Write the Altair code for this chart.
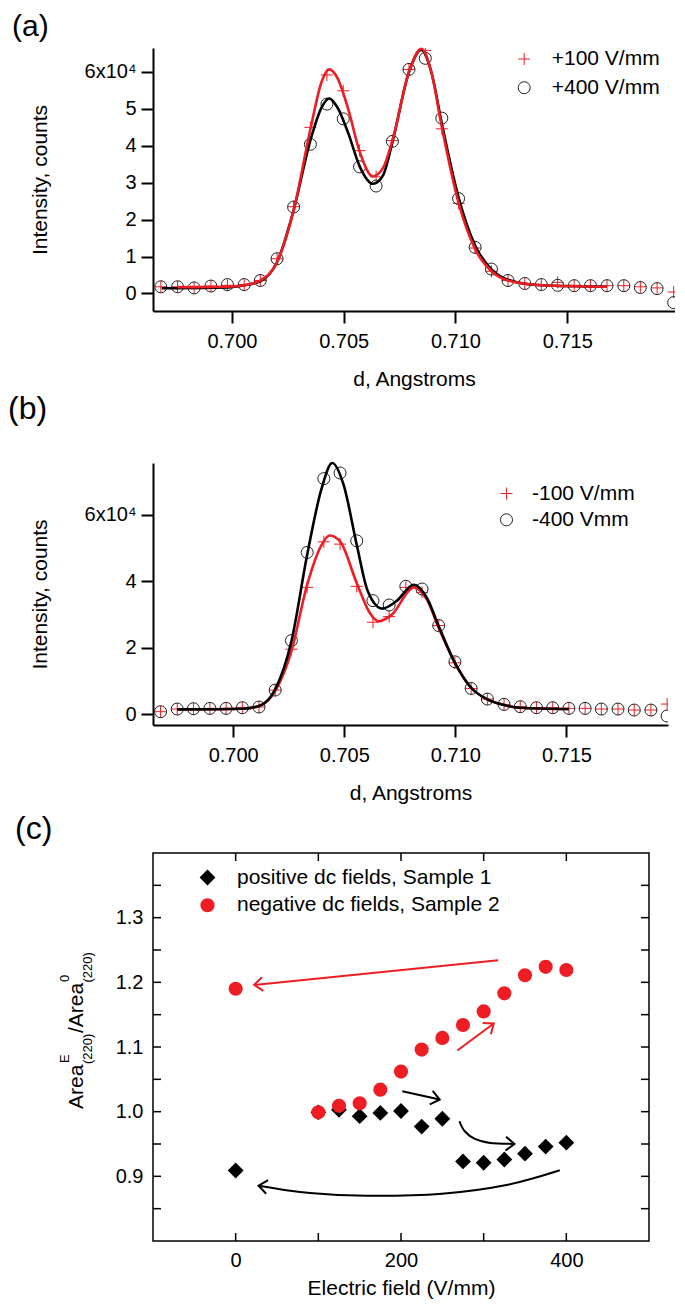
import math
import altair as alt
import pandas as pd

FONT = "Liberation Sans"
RED = "#ee1d23"
CROSS = "M-1,0L1,0M0,-1L0,1"
CHEVRON = "M-1,-0.8L0,0L-1,0.8"

# ---------------- panel (a) ----------------
d_a = [0.69682, 0.69757, 0.69831, 0.69906, 0.69980, 0.70055, 0.70127, 0.70202,
       0.70276, 0.70351, 0.70425, 0.70498, 0.70571, 0.70645, 0.70718, 0.70792,
       0.70865, 0.70939, 0.71014, 0.71088, 0.71161, 0.71235, 0.71310, 0.71384,
       0.71457, 0.71531, 0.71604, 0.71678, 0.71753, 0.71827, 0.71902, 0.71976]
a_p100 = [1800, 1800, 1500, 2000, 2200, 2400, 3500, 9400, 23500, 45000, 59200, 54900,
          38700, 31600, 41400, 60700, 65800, 44600, 24400, 12300, 6000, 3500, 2700, 2400,
          3000, 2200, 2100, 2100, 2100, 1800, 1500, 400]
a_p400 = [1800, 1800, 1500, 2000, 2400, 2400, 3500, 9400, 23400, 40400, 51300, 47300,
          34300, 29100, 41200, 60700, 63700, 47500, 25700, 12500, 6600, 3500, 2700, 2400,
          2200, 2100, 2100, 2100, 2100, 1600, 1300, -2500]
fit_a_red_d = [0.69757, 0.69980, 0.70055, 0.70127, 0.70202, 0.70276, 0.70351, 0.70402,
               0.70435, 0.70471, 0.70520, 0.70571, 0.70631, 0.70676, 0.70718, 0.70792,
               0.70847, 0.70892, 0.70939, 0.71014, 0.71088, 0.71161, 0.71235, 0.71384, 0.71676]
fit_a_red = [1700, 1800, 2200, 3500, 8500, 22500, 44500, 57500, 60700, 58500, 50000, 38500,
             31700, 34000, 41500, 60000, 66300, 60000, 45000, 24500, 12000, 6000, 3500, 2200, 1800]
fit_a_blk_d = [0.69686, 0.69757, 0.69980, 0.70055, 0.70127, 0.70202, 0.70276, 0.70351,
               0.70402, 0.70435, 0.70471, 0.70520, 0.70571, 0.70631, 0.70676, 0.70718,
               0.70792, 0.70847, 0.70892, 0.70939, 0.71014, 0.71088, 0.71161, 0.71235,
               0.71384, 0.71676]
fit_a_blk = [1400, 1400, 1600, 2200, 3300, 8500, 22500, 41500, 50500, 52800, 50500, 43500,
             34500, 29700, 32000, 41000, 60000, 66000, 60000, 46000, 26000, 13000, 6500,
             3700, 2200, 1800]
names_a = ["+100 V/mm", "+400 V/mm"]

# ---------------- panel (b) ----------------
d_b = [0.69673, 0.69748, 0.69821, 0.69895, 0.69968, 0.70041, 0.70116, 0.70189,
       0.70262, 0.70333, 0.70408, 0.70481, 0.70556, 0.70629, 0.70702, 0.70777,
       0.70850, 0.70925, 0.70998, 0.71071, 0.71144, 0.71219, 0.71292, 0.71365,
       0.71438, 0.71511, 0.71584, 0.71657, 0.71732, 0.71805, 0.71880, 0.71953]
b_m100 = [800, 1600, 1700, 1800, 1800, 2000, 2200, 7300, 19600, 38200, 51900, 51200,
          38500, 27700, 29400, 38200, 36700, 26700, 15500, 7800, 4600, 3000, 2300, 2000,
          2000, 1800, 1800, 1600, 1600, 1300, 1300, 3100]
b_m400 = [800, 1600, 1700, 1800, 1800, 2000, 2200, 7300, 22200, 48700, 70900, 72600,
          52200, 34200, 32900, 38500, 37700, 26700, 15800, 7800, 4600, 3000, 2300, 2000,
          2000, 1800, 1800, 1600, 1600, 1300, 1300, -500]
fit_b_red_d = [0.69748, 0.70043, 0.70116, 0.70189, 0.70262, 0.70333, 0.70398, 0.70434,
               0.70481, 0.70556, 0.70615, 0.70655, 0.70714, 0.70813, 0.70872, 0.70925,
               0.70998, 0.71071, 0.71144, 0.71219, 0.71292, 0.71511]
fit_b_red = [1500, 1700, 2500, 7000, 19000, 39000, 51000, 53800, 52000, 39500, 30500, 28000,
             30000, 38200, 34500, 26000, 15500, 8000, 4500, 2800, 2000, 1600]
fit_b_blk_d = [0.69748, 0.70043, 0.70116, 0.70189, 0.70262, 0.70333, 0.70398, 0.70446,
               0.70497, 0.70556, 0.70606, 0.70671, 0.70734, 0.70813, 0.70872, 0.70925,
               0.70998, 0.71071, 0.71144, 0.71219, 0.71292, 0.71511]
fit_b_blk = [1500, 1700, 2500, 7500, 22000, 48000, 68000, 75600, 69000, 51000, 37000, 31800,
             34000, 39000, 35000, 26500, 15500, 8000, 4500, 2800, 2000, 1600]
names_b = ["-100 V/mm", "-400 Vmm"]

# ---------------- panel (c) ----------------
field_pos = [0, 100, 125, 150, 175, 200, 225, 250, 275, 300, 325, 350, 375, 400]
ratio_pos = [0.909, 0.999, 1.003, 0.993, 0.998, 1.001, 0.977, 0.989, 0.923, 0.921,
             0.926, 0.935, 0.946, 0.952]
field_neg = [0, 100, 125, 150, 175, 200, 225, 250, 275, 300, 325, 350, 375, 400]
ratio_neg = [1.190, 0.999, 1.009, 1.013, 1.034, 1.062, 1.096, 1.114, 1.134, 1.155,
             1.183, 1.211, 1.224, 1.219]
names_c = ["positive dc fields, Sample 1", "negative dc fields, Sample 2"]
xticks_c = [0, 100, 200, 300, 400]
yticks_c = [0.85, 0.90, 0.95, 1.00, 1.05, 1.10, 1.15, 1.20, 1.25, 1.30, 1.35]

# annotation arrows (data coordinates)
arrow_red_long_x = [317.6, 22.3]
arrow_red_long_y = [1.234, 1.196]
arrow_red_short_x = [268.1, 312.2]
arrow_red_short_y = [1.0946, 1.1364]
arrow_blk_short_x = [201.6, 246.8]
arrow_blk_short_y = [1.0316, 1.0187]
arrow_blk_bend_x = [270.7, 277.1, 289.4, 308.0, 337.2]
arrow_blk_bend_y = [0.9852, 0.9697, 0.9578, 0.9516, 0.9501]
arrow_blk_long_x = [392.0, 329.3, 249.5, 159.0, 89.9, 27.7]
arrow_blk_long_y = [0.9093, 0.8871, 0.8732, 0.8701, 0.8742, 0.8855]

# ---------------- layout sizes ----------------
WA, HA = 522, 263
WB, HB = 515, 262
WC, HC = 496, 388


def label_layer(txt, x, y, size=32, angle=0, baseline="alphabetic"):
    return alt.Chart(pd.DataFrame({"t": [txt]})).mark_text(
        font=FONT, fontSize=size, align="left", baseline=baseline,
        angle=angle, color="black"
    ).encode(x=alt.value(x), y=alt.value(y), text="t:N")


def spectrum_panel(d_pts, s1, s2, names, red_fit, blk_fit, xdom, ydom, yvals,
                   W, H, leg, lab):
    xenc = alt.X("d:Q", scale=alt.Scale(domain=xdom, nice=False, zero=False),
                 axis=alt.Axis(values=[0.700, 0.705, 0.710, 0.715], format=".3f",
                               title="d, Angstroms", tickSize=12, tickWidth=2,
                               domainWidth=2, labelPadding=8, titlePadding=17,
                               grid=False))
    yenc = alt.Y("I:Q", scale=alt.Scale(domain=ydom, nice=False, zero=False),
                 axis=alt.Axis(values=yvals,
                               labelExpr="datum.value == 60000 ? '6x10\u2074' : format(datum.value/10000, 'd')",
                               title="Intensity, counts", tickSize=12, tickWidth=2,
                               domainWidth=2, labelPadding=5, titlePadding=34,
                               grid=False))
    pts = pd.DataFrame({
        "d": d_pts + d_pts,
        "I": s1 + s2,
        "s": [names[0]] * len(s1) + [names[1]] * len(s2),
    })
    red_df = pd.DataFrame({"d": red_fit[0], "I": red_fit[1]})
    blk_df = pd.DataFrame({"d": blk_fit[0], "I": blk_fit[1]})
    red_line = alt.Chart(red_df).mark_line(color=RED, strokeWidth=2.6, interpolate="monotone").encode(
        x=alt.X("d:Q"), y=alt.Y("I:Q"))
    blk_line = alt.Chart(blk_df).mark_line(color="black", strokeWidth=2.6, interpolate="monotone").encode(
        x=alt.X("d:Q"), y=alt.Y("I:Q"))
    lines = [red_line, blk_line] if names[0].startswith("-") else [blk_line, red_line]
    legend = alt.Legend(orient="none", legendX=leg[0], legendY=leg[1], title=None,
                        labelFontSize=21, labelFont=FONT, symbolSize=144,
                        symbolStrokeWidth=1, labelOffset=leg[2], rowPadding=leg[3],
                        padding=0, labelLimit=300)
    points = alt.Chart(pts).mark_point(filled=False, size=144, strokeWidth=1, clip=True, opacity=1).encode(
        x=xenc, y=yenc,
        shape=alt.Shape("s:N", scale=alt.Scale(domain=names, range=[CROSS, "circle"]), legend=legend),
        color=alt.Color("s:N", scale=alt.Scale(domain=names, range=[RED, "#222222"]), legend=legend),
    )
    return alt.layer(points, *lines, lab).properties(width=W, height=H)


panel_a = spectrum_panel(d_a, a_p100, a_p400, names_a,
                         (fit_a_red_d, fit_a_red), (fit_a_blk_d, fit_a_blk),
                         [0.69647, 0.71982], [-4760, 66500],
                         [0, 10000, 20000, 30000, 40000, 50000, 60000],
                         WA, HA, (360.7, 0.5, 17, 6.7),
                         label_layer("(a)", -141, -36, 30, 0, "top"))
panel_b = spectrum_panel(d_b, b_m100, b_m400, names_b,
                         (fit_b_red_d, fit_b_red), (fit_b_blk_d, fit_b_blk),
                         [0.69639, 0.71957], [-3200, 75600],
                         [0, 20000, 40000, 60000],
                         WB, HB, (343, 20, 15, 4.3),
                         label_layer("(b)", -145, -44.4))

# ---------------- panel (c) build ----------------
xc_scale = alt.Scale(domain=[-100, 500], nice=False, zero=False)
yc_scale = alt.Scale(domain=[0.8, 1.4], nice=False, zero=False)
pts_c = pd.DataFrame({
    "E": field_pos + field_neg,
    "A": ratio_pos + ratio_neg,
    "s": [names_c[0]] * len(field_pos) + [names_c[1]] * len(field_neg),
})
leg_c = alt.Legend(orient="none", legendX=44, legendY=14, title=None, labelFontSize=21,
                   labelFont=FONT, labelOffset=19, rowPadding=5.7,
                   padding=0, symbolStrokeWidth=0, labelLimit=400)
pts_layer = alt.Chart(pts_c).mark_point(filled=True, opacity=1).encode(
    x=alt.X("E:Q", scale=xc_scale,
            axis=alt.Axis(values=[0, 200, 400], format="d", ticks=False, tickSize=0,
                          domain=False, labelPadding=9, title="Electric field (V/mm)",
                          titlePadding=7, grid=False)),
    y=alt.Y("A:Q", scale=yc_scale,
            axis=alt.Axis(values=[0.9, 1.0, 1.1, 1.2, 1.3], format=".1f", ticks=False,
                          tickSize=0, domain=False, labelPadding=10, title=None, grid=False)),
    shape=alt.Shape("s:N", scale=alt.Scale(domain=names_c, range=["diamond", "circle"]), legend=leg_c),
    color=alt.Color("s:N", scale=alt.Scale(domain=names_c, range=["black", RED]), legend=leg_c),
    size=alt.Size("s:N", scale=alt.Scale(domain=names_c, range=[250, 200]), legend=leg_c),
)

arrows = [
    (arrow_red_long_x, arrow_red_long_y, RED),
    (arrow_red_short_x, arrow_red_short_y, RED),
    (arrow_blk_short_x, arrow_blk_short_y, "black"),
    (arrow_blk_bend_x, arrow_blk_bend_y, "black"),
    (arrow_blk_long_x, arrow_blk_long_y, "black"),
]
px_x = WC / 600.0
px_y = HC / 0.6
rows, heads = [], []
for gi, (xs, ys, col) in enumerate(arrows):
    for k, (xv, yv) in enumerate(zip(xs, ys)):
        rows.append({"E": xv, "A": yv, "g": gi, "k": k, "col": col})
    dx = (xs[-1] - xs[-2]) * px_x
    dy = -(ys[-1] - ys[-2]) * px_y
    heads.append({"E": xs[-1], "A": ys[-1], "col": col,
                  "ang": math.degrees(math.atan2(dy, dx)) % 360})
arrow_lines = alt.Chart(pd.DataFrame(rows)).mark_line(strokeWidth=2, interpolate="cardinal").encode(
    x="E:Q", y="A:Q", detail="g:N", order="k:Q", color=alt.Color("col:N", scale=None))
arrow_heads = alt.Chart(pd.DataFrame(heads)).mark_point(shape=CHEVRON, filled=False, size=300,
                                                        strokeWidth=2, opacity=1).encode(
    x="E:Q", y="A:Q", angle=alt.Angle("ang:Q", scale=None), color=alt.Color("col:N", scale=None))

TL = 8
yt_df = pd.DataFrame({"A": yticks_c})
xt_df = pd.DataFrame({"E": xticks_c})
tick_l = alt.Chart(yt_df).mark_rule(color="black", strokeWidth=1.5).encode(
    y="A:Q", x=alt.value(0), x2=alt.value(TL))
tick_r = alt.Chart(yt_df).mark_rule(color="black", strokeWidth=1.5).encode(
    y="A:Q", x=alt.value(WC - TL), x2=alt.value(WC))
tick_b = alt.Chart(xt_df).mark_rule(color="black", strokeWidth=1.5).encode(
    x="E:Q", y=alt.value(HC - TL), y2=alt.value(HC))
tick_t = alt.Chart(xt_df).mark_rule(color="black", strokeWidth=1.5).encode(
    x="E:Q", y=alt.value(0), y2=alt.value(TL))

ytitle = [
    label_layer("Area", -69.6, 256, 21, 270),
    label_layer("E", -84, 210, 13, 270),
    label_layer("(220)", -61, 211, 13, 270),
    label_layer("/Area", -69.6, 180, 21, 270),
    label_layer("0", -84, 129, 13, 270),
    label_layer("(220)", -61, 129.5, 13, 270),
]

panel_c = alt.layer(
    tick_l, tick_r, tick_b, tick_t, arrow_lines, arrow_heads, pts_layer,
    label_layer("(c)", -138, -14.4), *ytitle
).properties(width=WC, height=HC, view=alt.ViewBackground(stroke="black", strokeWidth=1.5))

top = alt.vconcat(panel_a, panel_b, spacing=3).resolve_scale(
    color="independent", shape="independent").resolve_legend(
    color="independent", shape="independent")
chart = alt.vconcat(top, panel_c, spacing=8).resolve_scale(
    color="independent", shape="independent", size="independent").resolve_legend(
    color="independent", shape="independent", size="independent").properties(
    padding={"top": 4, "bottom": 0, "left": 0, "right": 0}).configure_view(
    strokeWidth=0
).configure_axis(
    labelFont=FONT, titleFont=FONT, labelFontSize=20, titleFontSize=21,
    titleFontWeight="normal", labelColor="black", titleColor="black",
    tickColor="black", domainColor="black"
).configure_legend(labelFont=FONT, labelFontSize=21, labelColor="black")

chart.save("out.html", embed_options={"renderer": "svg", "actions": False})
